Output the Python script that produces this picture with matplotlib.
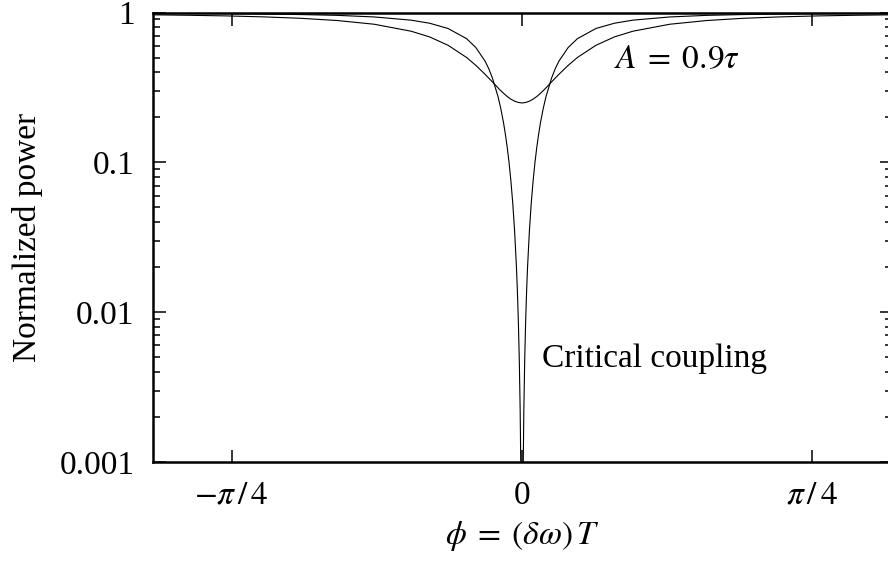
import numpy as np
import matplotlib.pyplot as plt
from matplotlib.ticker import FixedLocator, LogLocator, NullLocator

plt.rcParams['font.family'] = ['Liberation Serif', 'DejaVu Serif']
plt.rcParams['mathtext.fontset'] = 'stix'
plt.rcParams['font.size'] = 24

# round-trip phase (rad) and transmitted power, critically coupled ring
phase_critical = [-1.0, -0.9, -0.8, -0.7, -0.6, -0.5, -0.4, -0.3, -0.25, -0.2,
                  -0.15, -0.125, -0.1, -0.09, -0.08, -0.065, -0.0575, -0.05,
                  -0.045, -0.04, -0.035, -0.03, -0.025, -0.02, -0.015, -0.0125,
                  -0.01, -0.0075, -0.005, -0.003, -0.002, -0.001, 0.0,
                  0.001, 0.002, 0.003, 0.005, 0.0075, 0.01, 0.0125, 0.015,
                  0.02, 0.025, 0.03, 0.035, 0.04, 0.045, 0.05, 0.0575, 0.065,
                  0.08, 0.09, 0.1, 0.125, 0.15, 0.2, 0.25, 0.3, 0.4, 0.5, 0.6,
                  0.7, 0.8, 0.9, 1.0]
power_critical = [0.988, 0.986, 0.982, 0.977, 0.969, 0.957, 0.934, 0.889, 0.848,
                  0.782, 0.669, 0.584, 0.474, 0.422, 0.365, 0.275, 0.229, 0.184,
                  0.154, 0.126, 0.0993, 0.0749, 0.0533, 0.0348, 0.0199, 0.0139,
                  0.00892, 0.00504, 0.00225, 0.00081, 0.00036, 0.00009, 0.00001,
                  0.00009, 0.00036, 0.00081, 0.00225, 0.00504, 0.00892, 0.0139,
                  0.0199, 0.0348, 0.0533, 0.0749, 0.0993, 0.126, 0.154, 0.184,
                  0.229, 0.275, 0.365, 0.422, 0.474, 0.584, 0.669, 0.782, 0.848,
                  0.889, 0.934, 0.957, 0.969, 0.977, 0.982, 0.986, 0.988]

# same ring with A = 0.9 tau
phase_under = [-1.0, -0.9, -0.8, -0.7, -0.6, -0.5, -0.4, -0.3, -0.25, -0.2,
               -0.15, -0.125, -0.1, -0.08, -0.07, -0.06, -0.05, -0.04, -0.03,
               -0.02, -0.01, 0.0, 0.01, 0.02, 0.03, 0.04, 0.05, 0.06, 0.07,
               0.08, 0.1, 0.125, 0.15, 0.2, 0.25, 0.3, 0.4, 0.5, 0.6, 0.7, 0.8,
               0.9, 1.0]
power_under = [0.965, 0.958, 0.949, 0.935, 0.915, 0.884, 0.835, 0.750, 0.687,
               0.604, 0.501, 0.444, 0.387, 0.344, 0.324, 0.305, 0.289, 0.275,
               0.264, 0.256, 0.251, 0.249, 0.251, 0.256, 0.264, 0.275, 0.289,
               0.305, 0.324, 0.344, 0.387, 0.444, 0.501, 0.604, 0.687, 0.750,
               0.835, 0.884, 0.915, 0.935, 0.949, 0.958, 0.965]

x_ticks = [-np.pi / 4, 0, np.pi / 4]
x_labels = [r'$-\pi\,/\,4$', '0', r'$\pi\,/\,4$']
y_ticks = [0.001, 0.01, 0.1, 1]
y_labels = ['0.001', '0.01', '0.1', '1']

fig = plt.figure(figsize=(8.88, 5.62), dpi=100)
ax = fig.add_axes([152.5 / 888, 1 - 462 / 562, (891.5 - 152.5) / 888, (462 - 12.5) / 562])

ax.plot(phase_critical, power_critical, color='black', lw=0.8)
ax.plot(phase_under, power_under, color='black', lw=0.8)

ax.set_yscale('log')
ax.set_xlim(-1, 1)
ax.set_ylim(0.001, 1)

ax.xaxis.set_major_locator(FixedLocator(x_ticks))
ax.set_xticklabels(x_labels)
ax.xaxis.set_minor_locator(NullLocator())
ax.yaxis.set_major_locator(FixedLocator(y_ticks))
ax.set_yticklabels(y_labels)
ax.yaxis.set_minor_locator(LogLocator(base=10, subs=np.arange(2, 10)))

for s in ax.spines.values():
    s.set_linewidth(1.8)
ax.tick_params(which='both', direction='in', top=True, right=True, width=1.1)
ax.tick_params(which='major', length=9, pad=13)
ax.tick_params(which='minor', length=5)

ax.set_xlabel(r'$\phi\;=\;(\delta\omega)\,T$', labelpad=6)
ax.set_ylabel('Normalized power', labelpad=12)

ax.text(0.248, 0.426, r'$A\;=\;0.9\tau$', va='baseline', ha='left')
ax.text(0.055, 0.0043, 'Critical coupling', va='baseline', ha='left')

fig.savefig('out.png', dpi=100)
